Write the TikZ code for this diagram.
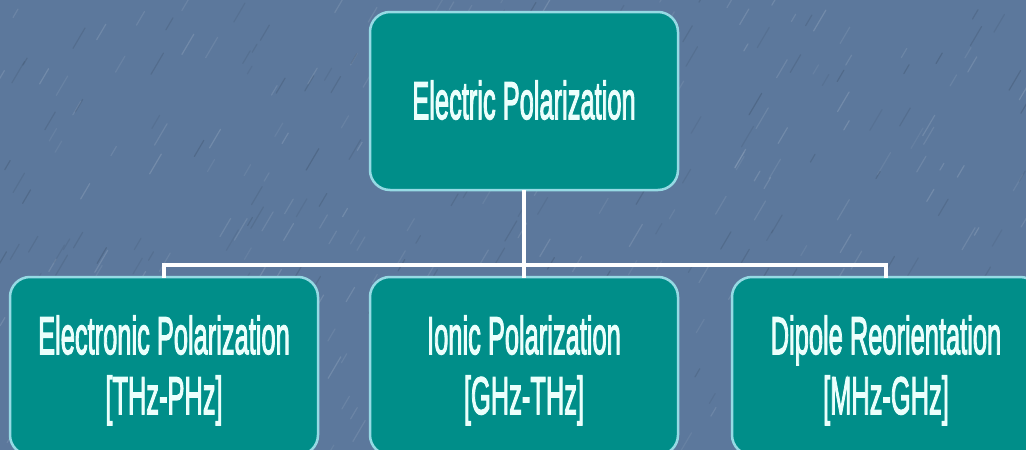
\documentclass[tikz,border=0pt]{standalone}
\usepackage{fontspec}
\setmainfont{Liberation Sans}[FakeBold=3]
\usepackage{graphicx}
\definecolor{bgblue}{RGB}{92,120,156}
\definecolor{tealfill}{RGB}{0,142,137}
\definecolor{tealborder}{RGB}{150,218,228}
\definecolor{txtwhite}{RGB}{235,255,252}
\definecolor{shadowgray}{RGB}{70,90,115}
\newcommand{\boxtext}[1]{\raisebox{-6pt}[\height][\depth]{\scalebox{0.48}[1]{\fontsize{53}{60}\selectfont\begin{tabular}{@{}c@{}}#1\end{tabular}}}}
\tikzset{
  pbox/.style={draw=tealborder, line width=2.5pt, fill=tealfill, rounded corners=20pt,
    minimum width=308pt, minimum height=178pt, inner sep=0pt, text=txtwhite},
  conn/.style={draw=white, line width=3.5pt, line join=miter, line cap=rect},
  connshadow/.style={draw=shadowgray, line width=3.5pt, line join=miter, line cap=rect},
  streak/.style={line width=1.2pt, line cap=round}
}
\begin{document}
\begin{tikzpicture}[x=1pt,y=-1pt]
\useasboundingbox (0,0) rectangle (1026,450);
\clip (0,0) rectangle (1026,450);
\fill[bgblue] (0,0) rectangle (1026,450);
\pgfmathsetseed{7}
\foreach \i in {1,...,260}{
  \pgfmathsetmacro{\sx}{rnd*1040-7}
  \pgfmathsetmacro{\sy}{rnd*460-5}
  \pgfmathsetmacro{\sl}{8+rnd*18}
  \pgfmathsetmacro{\op}{0.06+rnd*0.08}
  \draw[streak, white, opacity=\op] (\sx,\sy) -- ++(\sl*0.5,-\sl*0.85);
}
\foreach \i in {1,...,200}{
  \pgfmathsetmacro{\sx}{rnd*1040-7}
  \pgfmathsetmacro{\sy}{rnd*460-5}
  \pgfmathsetmacro{\sl}{8+rnd*18}
  \pgfmathsetmacro{\op}{0.05+rnd*0.07}
  \draw[streak, black, opacity=\op] (\sx,\sy) -- ++(\sl*0.5,-\sl*0.85);
}
\node[pbox] (top) at (524,101) {\boxtext{Electric Polarization}};
\node[pbox] (b1) at (164,366) {\boxtext{Electronic Polarization\\{}[THz-PHz]}};
\node[pbox] (b2) at (524,366) {\boxtext{Ionic Polarization\\{}[GHz-THz]}};
\node[pbox] (b3) at (886,366) {\boxtext{Dipole Reorientation\\{}[MHz-GHz]}};
\coordinate (bus) at (524,265);
\begin{scope}[shift={(1.5,1.5)}]
\draw[connshadow] (b1.north) -- (b1.north |- bus) -- (b3.north |- bus) -- (b3.north);
\end{scope}
\draw[conn] (top.south) -- (bus);
\draw[conn] (bus) -- (b2.north);
\draw[conn] (b1.north) -- (b1.north |- bus) -- (b3.north |- bus) -- (b3.north);
\end{tikzpicture}
\end{document}
